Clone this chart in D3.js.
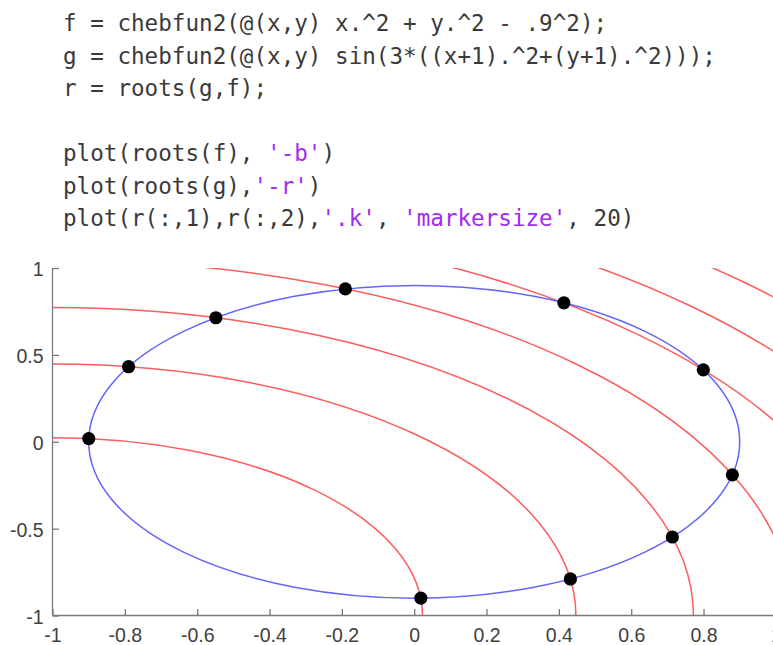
<!DOCTYPE html>
<html>
<head>
<meta charset="utf-8">
<script src="https://cdn.jsdelivr.net/npm/d3@7"></script>
<style>
  html, body { margin: 0; padding: 0; background: #fff; }
  svg { display: block; }
</style>
</head>
<body>
<script>
// MATLAB snippet shown above the plot: each line is a list of [text, isString] pieces
const codeLines = [
  [["f = chebfun2(@(x,y) x.^2 + y.^2 - .9^2);", false]],
  [["g = chebfun2(@(x,y) sin(3*((x+1).^2+(y+1).^2)));", false]],
  [["r = roots(g,f);", false]],
  [],
  [["plot(roots(f), ", false], ["'-b'", true], [")", false]],
  [["plot(roots(g),", false], ["'-r'", true], [")", false]],
  [["plot(r(:,1),r(:,2),", false], ["'.k'", true], [", ", false], ["'markersize'", true], [", 20)", false]]
];

// Axis ticks
const xTicks = [-1, -0.8, -0.6, -0.4, -0.2, 0, 0.2, 0.4, 0.6, 0.8, 1];
const yTicks = [-1, -0.5, 0, 0.5, 1];

// Zero set of f: circle of radius 0.9 about the origin
const fCenter = [0, 0];
const fRadius = 0.9;

// Zero set of g: circles about (-1,-1)
const gCenter = [-1, -1];
const gRadii = [1.023, 1.447, 1.772, 2.047, 2.288, 2.507, 2.708];

// Common roots r(:,1), r(:,2)
const rootX = [-0.8998, 0.0184, -0.7897, 0.4318, -0.5483, 0.7137, -0.1903, 0.8797, 0.4138, 0.7993];
const rootY = [0.0184, -0.8998, 0.4318, -0.7897, 0.7137, -0.5483, 0.8797, -0.1903, 0.7993, 0.4138];

const W = 773, H = 645;
const svg = d3.select("body").append("svg").attr("width", W).attr("height", H);

// ---- code block ----
const codeX = 63, codeTop = 31, codeStep = 32.5;
const code = svg.append("g")
  .attr("font-family", "'DejaVu Sans Mono', 'Liberation Mono', monospace")
  .attr("font-size", 22.6);
codeLines.forEach((pieces, i) => {
  const t = code.append("text")
    .attr("x", codeX)
    .attr("y", codeTop + i * codeStep)
    .attr("xml:space", "preserve");
  pieces.forEach(([s, isStr]) => {
    t.append("tspan")
      .attr("fill", isStr ? "#a52af0" : "#3a3a3a")
      .text(s);
  });
});

// ---- plot ----
const x = d3.scaleLinear().domain([-1, 1]).range([52.5, 775.9]);
const y = d3.scaleLinear().domain([-1, 1]).range([615.5, 268]);

svg.append("clipPath").attr("id", "plotArea")
  .append("rect")
  .attr("x", x(-1)).attr("y", y(1))
  .attr("width", x(1) - x(-1)).attr("height", y(-1) - y(1));

const plot = svg.append("g").attr("clip-path", "url(#plotArea)");

// red contours of g
plot.selectAll("ellipse.g")
  .data(gRadii)
  .join("ellipse")
  .attr("class", "g")
  .attr("cx", x(gCenter[0]))
  .attr("cy", y(gCenter[1]))
  .attr("rx", r => x(r) - x(0))
  .attr("ry", r => y(0) - y(r))
  .attr("fill", "none")
  .attr("stroke", "#ff5c5c")
  .attr("stroke-width", 1.5);

// blue contour of f
plot.append("ellipse")
  .attr("cx", x(fCenter[0]))
  .attr("cy", y(fCenter[1]))
  .attr("rx", x(fRadius) - x(0))
  .attr("ry", y(0) - y(fRadius))
  .attr("fill", "none")
  .attr("stroke", "#6464ff")
  .attr("stroke-width", 1.5);

// roots
svg.append("g").selectAll("circle")
  .data(d3.range(rootX.length))
  .join("circle")
  .attr("cx", i => x(rootX[i]))
  .attr("cy", i => y(rootY[i]))
  .attr("r", 6.6)
  .attr("fill", "#000");

// axes (ticks point inward, no box); labels use a plain hyphen-minus
const fmt = d => String(d);
const xAxis = svg.append("g")
  .attr("transform", `translate(0,${y(-1)})`)
  .call(d3.axisBottom(x).tickValues(xTicks).tickFormat(fmt).tickSize(-6.5).tickPadding(13));
const yAxis = svg.append("g")
  .attr("transform", `translate(${x(-1)},0)`)
  .call(d3.axisLeft(y).tickValues(yTicks).tickFormat(fmt).tickSize(-6.5).tickPadding(9));

[xAxis, yAxis].forEach(a => {
  a.select(".domain").attr("stroke", "#7a7a7a").attr("stroke-width", 1.3);
  a.selectAll(".tick line").attr("stroke", "#7a7a7a").attr("stroke-width", 1.3);
  a.selectAll(".tick text")
    .attr("fill", "#404040")
    .attr("font-family", "'Liberation Sans', Arial, sans-serif")
    .attr("font-size", 19.5);
});
yAxis.selectAll(".tick text").attr("dy", "0.4em");
yAxis.select(".domain").attr("d", `M0,${y(-1)}V${y(1)}`);
xAxis.select(".domain").attr("d", `M${x(-1)},0H${x(1)}`);
</script>
</body>
</html>
